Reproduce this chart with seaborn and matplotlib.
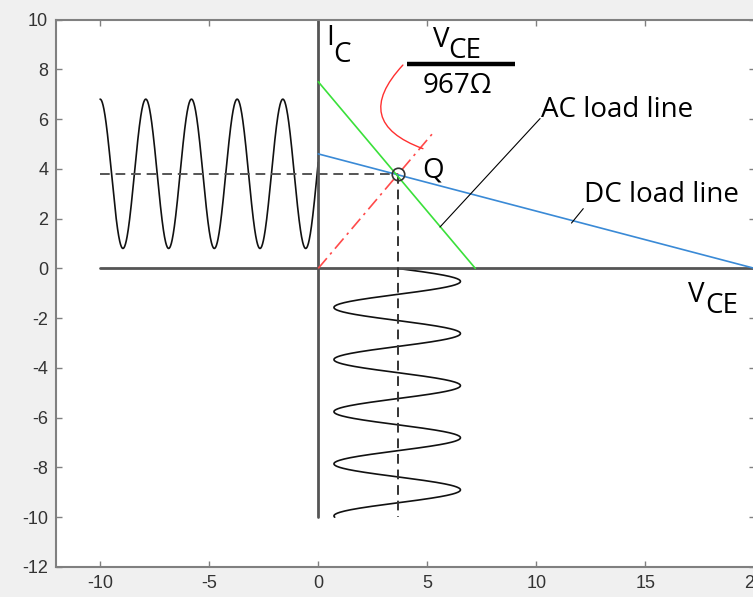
import numpy as np
import pandas as pd
import matplotlib
matplotlib.use("Agg")
import matplotlib.pyplot as plt
import seaborn as sns

# load lines (V_CE in V, I_C in mA)
dc_vce = [0, 20]
dc_ic = [4.6, 0]
ac_vce = [0, 7.2]
ac_ic = [7.5, 0]
rac_vce = [0, 5.3]
rac_ic = [0, 5.48]
q_vce = 3.65
q_ic = 3.8

# signal swings around Q
ic_mid, ic_amp = 3.8, 3.0
vce_mid, vce_amp = 3.62, 2.9
omega = 3.0
ic_span = [-10, 0]      # along V_CE axis (left wave)
vce_span = [0, -10]     # along I_C axis (wave below)

sns.set_style("ticks")
plt.rcParams["font.family"] = ["Liberation Sans", "DejaVu Sans"]
plt.rcParams["axes.unicode_minus"] = False

fig = plt.figure(figsize=(7.53, 5.97), dpi=100, facecolor="#f0f0f0")
ax = fig.add_axes([0.075, 0.0503, 0.927, 0.917])
ax.set_facecolor("white")

# signal waves
t = np.linspace(ic_span[0], ic_span[1], 800)
left_wave = pd.DataFrame({"v": t, "i": ic_mid + ic_amp * np.cos(omega * (t - ic_span[0]))})
s = np.linspace(vce_span[0], vce_span[1], 800)
down_wave = pd.DataFrame({"v": vce_mid + vce_amp * np.sin(-omega * s), "i": s})
sns.lineplot(data=left_wave, x="v", y="i", sort=False, estimator=None, color="#111111", lw=1.2, ax=ax)
sns.lineplot(data=down_wave, x="v", y="i", sort=False, estimator=None, color="#111111", lw=1.2, ax=ax)

# drawn axes through the origin
ax.plot([-10, 20], [0, 0], color="#555555", lw=2)
ax.plot([0, 0], [-10, 10], color="#555555", lw=2)

# Q projections
ax.plot([-10, q_vce], [q_ic, q_ic], color="#555555", lw=1.4, ls=(0, (5, 3)))
ax.plot([q_vce, q_vce], [q_ic, -10], color="#333333", lw=1.4, ls=(0, (5, 3)))

# load lines
ax.plot(rac_vce, rac_ic, color="#ff4a4a", lw=1.2, ls=(0, (8, 3, 1.5, 3)))
ax.plot(dc_vce, dc_ic, color="#3a8ad6", lw=1.2)
ax.plot(ac_vce, ac_ic, color="#3ae03a", lw=1.2)
ax.plot([q_vce], [q_ic], "o", mfc="none", mec="#333333", ms=9, mew=1.2)

# labels
lab = dict(family=["Open Sans", "DejaVu Sans"], fontsize=20, color="black")
ax.text(0.38, 8.97, "I", ha="left", va="baseline", **lab)
ax.text(0.68, 8.3, "C", ha="left", va="baseline", **lab)
ax.text(5.26, 8.9, "V", ha="left", va="baseline", **lab)
ax.text(5.98, 8.45, "CE", ha="left", va="baseline", **lab)
ax.plot([4.08, 9.04], [8.22, 8.22], color="black", lw=3.2, solid_capstyle="butt")
ax.text(6.4, 7.04, "967Ω", ha="center", va="baseline", **lab)
ax.text(4.79, 3.67, "Q", ha="left", va="baseline", **lab)
ax.text(10.23, 6.09, "AC load line", ha="left", va="baseline", **lab)
ax.text(12.2, 2.67, "DC load line", ha="left", va="baseline", **lab)
ax.text(16.97, -1.37, "V", ha="left", va="baseline", **lab)
ax.text(17.72, -1.81, "CE", ha="left", va="baseline", **lab)

# pointers
ax.annotate("", xy=(4.8, 4.81), xytext=(3.88, 8.17),
            arrowprops=dict(arrowstyle="-", color="#ff3030", lw=1.0,
                            connectionstyle="arc3,rad=0.75", shrinkA=0, shrinkB=0))
ax.plot([5.58, 10.17], [1.66, 6.02], color="black", lw=0.8)
ax.plot([11.61, 12.15], [1.82, 2.4], color="black", lw=0.8)

ax.set_xlim(-12, 20)
ax.set_ylim(-12, 10)
ax.set_xticks(range(-10, 21, 5))
ax.set_yticks(range(-12, 11, 2))
ax.set_xlabel("")
ax.set_ylabel("")
ax.tick_params(direction="in", length=4, width=1, colors="#808080",
               labelcolor="#333333", labelsize=13, top=True, right=True, pad=6)
for sp in ax.spines.values():
    sp.set_visible(True)
    sp.set_color("#808080")
    sp.set_linewidth(1.5)

fig.savefig("out.png", dpi=100, facecolor=fig.get_facecolor())
